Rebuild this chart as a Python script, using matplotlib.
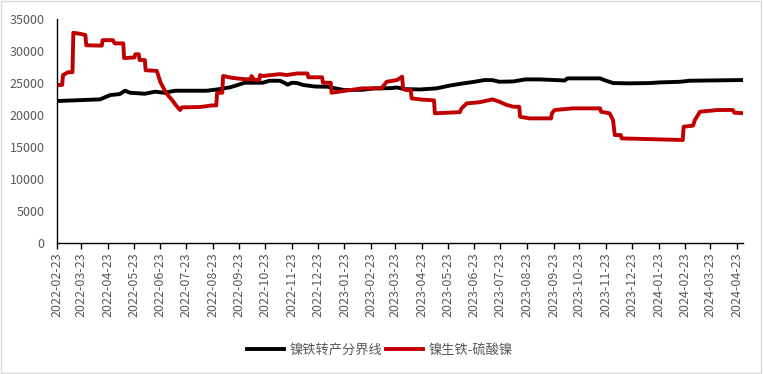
import pandas as pd
import matplotlib
matplotlib.use('Agg')
import matplotlib.pyplot as plt
import matplotlib.dates as mdates
from matplotlib.patches import Rectangle

plt.rcParams['font.family'] = ['Noto Sans CJK SC', 'DejaVu Sans']

# 镍铁转产分界线 (black)
black_dates = ['2022-02-23', '2022-04-14', '2022-04-26', '2022-05-07', '2022-05-13',
               '2022-05-19', '2022-06-05', '2022-06-17', '2022-06-28', '2022-07-10',
               '2022-08-16', '2022-08-28', '2022-09-12', '2022-09-21', '2022-09-29',
               '2022-10-20', '2022-10-28', '2022-11-09', '2022-11-14', '2022-11-18',
               '2022-11-23', '2022-11-29', '2022-12-06', '2022-12-20', '2023-01-03',
               '2023-01-12', '2023-01-23', '2023-02-13', '2023-02-27', '2023-03-17',
               '2023-03-25', '2023-04-03', '2023-04-21', '2023-05-10', '2023-05-25',
               '2023-06-10', '2023-06-23', '2023-07-05', '2023-07-14', '2023-07-22',
               '2023-08-07', '2023-08-21', '2023-09-07', '2023-09-24', '2023-10-06',
               '2023-10-09', '2023-11-16', '2023-11-21', '2023-12-01', '2023-12-20',
               '2024-01-13', '2024-01-24', '2024-02-17', '2024-02-28', '2024-04-29']
black_values = [22190, 22450, 23125, 23280, 23800,
                23480, 23330, 23650, 23480, 23800,
                23800, 24000, 24330, 24700, 25050,
                25050, 25360, 25360, 25050, 24750,
                25050, 25000, 24700, 24450, 24430,
                24170, 23900, 23950, 24170, 24200,
                24300, 24050, 24000, 24170, 24600,
                24950, 25200, 25470, 25450, 25200,
                25250, 25570, 25570, 25470, 25400,
                25730, 25730, 25450, 25000, 24950,
                25000, 25100, 25200, 25360, 25470]

# 镍生铁-硫酸镍 (red)
red_dates = ['2022-02-23', '2022-03-01', '2022-03-02', '2022-03-08', '2022-03-13',
             '2022-03-14', '2022-03-22', '2022-03-28', '2022-03-29', '2022-04-16',
             '2022-04-17', '2022-04-29', '2022-05-01', '2022-05-11', '2022-05-12',
             '2022-05-24', '2022-05-25', '2022-05-29', '2022-05-30', '2022-06-05',
             '2022-06-06', '2022-06-19', '2022-06-23', '2022-06-26', '2022-06-30',
             '2022-07-07', '2022-07-11', '2022-07-16', '2022-07-18', '2022-08-08',
             '2022-08-22', '2022-08-27', '2022-08-28', '2022-09-03', '2022-09-04',
             '2022-09-15', '2022-09-29', '2022-10-06', '2022-10-07', '2022-10-10',
             '2022-10-16', '2022-10-17', '2022-10-20', '2022-11-09', '2022-11-17',
             '2022-11-29', '2022-12-11', '2022-12-12', '2022-12-28', '2022-12-29',
             '2023-01-07', '2023-01-08', '2023-01-29', '2023-02-13', '2023-03-07',
             '2023-03-13', '2023-03-25', '2023-03-31', '2023-04-01', '2023-04-04',
             '2023-04-10', '2023-04-11', '2023-04-24', '2023-05-07', '2023-05-08',
             '2023-06-06', '2023-06-08', '2023-06-14', '2023-06-29', '2023-07-14',
             '2023-07-22', '2023-07-30', '2023-08-07', '2023-08-14', '2023-08-15',
             '2023-08-26', '2023-09-20', '2023-09-21', '2023-09-24', '2023-10-15',
             '2023-11-16', '2023-11-17', '2023-11-27', '2023-12-01', '2023-12-03',
             '2023-12-10', '2023-12-11', '2024-02-20', '2024-02-21', '2024-03-03',
             '2024-03-05', '2024-03-11', '2024-03-31', '2024-04-18', '2024-04-20',
             '2024-04-29']
red_values = [24700, 24700, 26250, 26700, 26700,
              32850, 32700, 32500, 30900, 30850,
              31700, 31700, 31200, 31200, 28900,
              29000, 29500, 29500, 28600, 28600,
              27000, 26900, 25200, 24400, 23400,
              22300, 21560, 20780, 21200, 21250,
              21500, 21500, 23480, 23480, 26100,
              25800, 25600, 25600, 26100, 25500,
              25500, 26250, 26100, 26400, 26250,
              26500, 26500, 25900, 25900, 25050,
              25050, 23480, 23900, 24170, 24170,
              25200, 25470, 26000, 24170, 23900,
              23900, 22600, 22400, 22300, 20270,
              20450, 21040, 21820, 22000, 22450,
              22080, 21600, 21300, 21300, 19730,
              19480, 19480, 20270, 20780, 21040,
              21040, 20520, 20270, 19200, 16870,
              16870, 16350, 16100, 18170, 18350,
              19200, 20520, 20780, 20800, 20360,
              20300]

tick_dates = pd.date_range('2022-02-23', '2024-04-23', freq=pd.DateOffset(months=1))

fig = plt.figure(figsize=(7.63, 3.74), dpi=100)
ax = fig.add_axes([0.0747, 0.3503, 0.8991, 0.5987])

ax.plot(pd.to_datetime(black_dates), black_values, color='#000000', lw=2.8,
        label='镍铁转产分界线', solid_joinstyle='round')
ax.plot(pd.to_datetime(red_dates), red_values, color='#C00000', lw=2.8,
        label='镍生铁-硫酸镍', solid_joinstyle='round')

ax.set_ylim(0, 35000)
ax.set_yticks(range(0, 35001, 5000))
ax.set_xlim(pd.Timestamp('2022-02-23'), pd.Timestamp('2024-04-30'))
ax.set_xticks(tick_dates)
ax.xaxis.set_major_formatter(mdates.DateFormatter('%Y-%m-%d'))

for s in ['top', 'right']:
    ax.spines[s].set_visible(False)
for s in ['left', 'bottom']:
    ax.spines[s].set_color('black')
    ax.spines[s].set_linewidth(1.0)

ax.tick_params(axis='y', length=0, labelsize=9, labelcolor='#595959', pad=9)
ax.tick_params(axis='x', length=4, width=1, direction='out', color='black',
               labelsize=9, labelcolor='#595959', labelrotation=90, pad=3)

fig.legend(loc='center', bbox_to_anchor=(0.498, 0.064), ncol=2, frameon=False,
           fontsize=9.5, handlelength=2.8, columnspacing=0.3, handletextpad=0.4,
           labelcolor='#595959')

fig.patches.append(Rectangle((0.001, 0.002), 0.997, 0.995, transform=fig.transFigure,
                             fill=False, edgecolor='#D9D9D9', linewidth=1))

fig.savefig('out.png', dpi=100)
